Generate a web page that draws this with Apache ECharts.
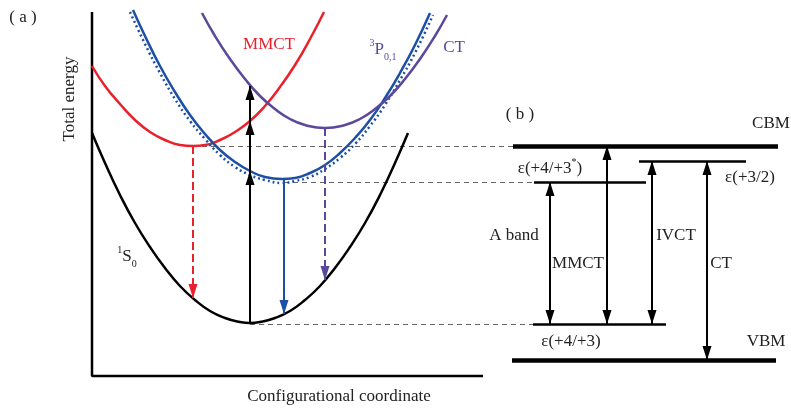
<!DOCTYPE html>
<html>
<head>
<meta charset="utf-8">
<script src="https://cdn.jsdelivr.net/npm/echarts@6/dist/echarts.min.js"></script>
<style>
  html, body { margin: 0; padding: 0; background: #fff; }
  #chart { width: 791px; height: 411px; }
</style>
</head>
<body>
<div id="chart"></div>
<script>
// coordinate units: x = configurational coordinate, E = total energy (arbitrary units)

// panel (a) potential curves
const groundX = [92, 105, 120, 135, 150, 165, 180, 195, 210, 225, 240, 250, 260, 275, 290, 305, 320, 335, 350, 365, 380, 395, 408];
const groundE = [278, 248, 216, 188, 164, 143, 125, 111, 100, 93, 89, 88, 89, 93, 100, 111, 125, 143, 164, 188, 216, 248, 278];
const mmctX = [92, 105, 120, 135, 150, 165, 180, 193, 205, 220, 235, 250, 265, 280, 295, 310, 324];
const mmctE = [345, 325, 307, 291, 279, 271, 266, 265, 266, 271, 279, 290, 305, 324, 346, 372, 399];
const p01X = [133, 145, 160, 175, 190, 205, 220, 235, 250, 265, 282, 295, 310, 325, 340, 355, 370, 385, 400, 415, 430];
const p01E = [401, 375, 345, 319, 296, 277, 261, 249, 240, 234, 232, 233, 238, 246, 258, 273, 291, 313, 338, 366, 398];
const p01DotX = [130, 145, 160, 175, 190, 205, 220, 235, 250, 265, 282, 295, 310, 325, 340, 355, 370, 385, 400, 415, 433];
const p01DotE = [399, 367, 338, 312, 290, 272, 256, 244, 236, 231, 228, 230, 234, 242, 253, 267, 285, 306, 331, 358, 396];
const ctX = [202, 215, 230, 245, 260, 275, 290, 305, 325, 345, 360, 375, 390, 405, 420, 435, 447];
const ctE = [398, 375, 352, 332, 315, 302, 292, 286, 283, 286, 292, 302, 315, 332, 352, 375, 396];

// panel (a) transitions
const absorbX = 250;
const absorbFrom = 88;
const absorbTo = [240, 290, 325];
const emitX = [193, 284, 325];
const emitFrom = [265, 232, 283];
const emitTo = [113, 97, 131];

// dashed guides from (a) to (b)
const guideE = [265, 229, 87];
const guideStart = [193, 284, 250];
const guideEnd = [513, 534, 533];

// panel (b) levels
const levelNames = ['CBM', 'ε(+4/+3*)', 'ε(+3/2)', 'ε(+4/+3)', 'VBM'];
const levelE = [265, 229, 250, 87, 51];
const levelStart = [513, 534, 639, 533, 512];
const levelEnd = [778, 646, 746, 666, 776];

// panel (b) transitions
const bandNames = ['A band', 'MMCT', 'IVCT', 'CT'];
const bandX = [550, 607, 652, 707];
const bandLow = [87, 87, 87, 51];
const bandHigh = [229, 265, 250, 250];

// axis frame of (a)
const frameX = [92, 92, 483];
const frameE = [399, 35, 35];

const RED = '#e8212b';
const BLUE = '#1d4fa5';
const PURPLE = '#5b479c';
const SERIF = '"Liberation Serif", "Times New Roman", serif';
// narrow arrow head, tip sits on the end point of the line
const HEAD = 'path://M0,-14 M0,0 L4.5,14 L-4.5,14 Z';
const HEAD_SIZE = [9, 28];

const chart = echarts.init(document.getElementById('chart'), null, { renderer: 'canvas' });

const zip = (xs, ys) => xs.map((x, i) => [x, ys[i]]);

const curve = (name, xs, ys, color, type) => ({
  name, type: 'line', data: zip(xs, ys), smooth: 0.5, showSymbol: false,
  lineStyle: { color, width: 2.5, type: type || 'solid' }, z: 3
});

const arrowSeries = (name, segs, color, opts) => Object.assign({
  name, type: 'lines', coordinateSystem: 'cartesian2d',
  data: segs.map(s => ({ coords: [[s[0], s[1]], [s[2], s[3]]] })),
  symbol: ['none', HEAD], symbolSize: [HEAD_SIZE, HEAD_SIZE],
  lineStyle: { color, width: 2, opacity: 1 }, z: 4
}, opts);

const emitColors = [RED, BLUE, PURPLE];
const emitTypes = [[8, 4], 'solid', [8, 4]];

const series = [
  { name: 'frame', type: 'line', data: zip(frameX, frameE), showSymbol: false,
    lineStyle: { color: '#000', width: 2.5 }, z: 2 },
  curve('1S0', groundX, groundE, '#000'),
  curve('MMCT', mmctX, mmctE, RED),
  curve('3P01 dotted', p01DotX, p01DotE, BLUE, [2, 3]),
  curve('3P01', p01X, p01E, BLUE),
  curve('CT', ctX, ctE, PURPLE),
  arrowSeries('absorption', absorbTo.map(t => [absorbX, absorbFrom, absorbX, t]), '#000'),
  ...emitX.map((x, i) => arrowSeries('emission' + i, [[x, emitFrom[i], x, emitTo[i]]], emitColors[i], {
    lineStyle: { color: emitColors[i], width: 2, opacity: 1, type: emitTypes[i] }
  })),
  arrowSeries('guides', guideE.map((e, i) => [guideStart[i], e, guideEnd[i], e]), '#666', {
    symbol: 'none', lineStyle: { color: '#666', width: 1, opacity: 1, type: [5, 4] }, z: 1
  }),
  arrowSeries('levels', [], '#000', {
    symbol: 'none',
    data: levelE.map((e, i) => ({
      coords: [[levelStart[i], e], [levelEnd[i], e]],
      lineStyle: { width: (levelNames[i] === 'CBM' || levelNames[i] === 'VBM') ? 4.5 : 2.5 }
    }))
  }),
  arrowSeries('bands', bandX.map((x, i) => [x, bandLow[i], x, bandHigh[i]]), '#000', {
    symbol: [HEAD, HEAD]
  })
];

const txt = (text, x, y, opts) => ({
  type: 'text', x, y, z: 10,
  style: Object.assign({
    text, fill: '#222', fontFamily: SERIF, fontSize: 17,
    textAlign: 'center', textVerticalAlign: 'middle'
  }, opts || {})
});

const rich = (fill) => ({
  m: { fontSize: 17, fontFamily: SERIF, fill, lineHeight: 24, verticalAlign: 'middle' },
  sup: { fontSize: 10, fontFamily: SERIF, fill, lineHeight: 24, verticalAlign: 'top' },
  sub: { fontSize: 10, fontFamily: SERIF, fill, lineHeight: 24, verticalAlign: 'bottom' }
});

const yTitle = txt('Total energy', 70, 99);
yTitle.rotation = Math.PI / 2;

const graphic = [
  txt('( a )', 23, 18),
  txt('( b )', 520, 115),
  yTitle,
  txt('Configurational coordinate', 339, 397),
  txt('MMCT', 269, 45, { fill: RED }),
  txt('{sup|3}{m|P}{sub|0,1}', 383, 50, { rich: rich(PURPLE) }),
  txt('CT', 454, 48, { fill: PURPLE }),
  txt('{sup|1}{m|S}{sub|0}', 127, 257, { rich: rich('#222') }),
  txt(levelNames[0], 771, 124),
  txt('{m|ε(+4/+3}{sup|*}{m|)}', 550, 169, { rich: rich('#222') }),
  txt(levelNames[2], 750, 178),
  txt(levelNames[3], 571, 342),
  txt(levelNames[4], 766, 342),
  txt(bandNames[0], 514, 236),
  txt(bandNames[1], 578, 264),
  txt(bandNames[2], 676, 236),
  txt(bandNames[3], 721, 264)
];

chart.setOption({
  animation: false,
  backgroundColor: '#fff',
  grid: { left: 0, right: 0, top: 0, bottom: 0 },
  xAxis: { type: 'value', min: 0, max: 791, show: false },
  yAxis: { type: 'value', min: 0, max: 411, show: false },
  series,
  graphic
});
</script>
</body>
</html>
